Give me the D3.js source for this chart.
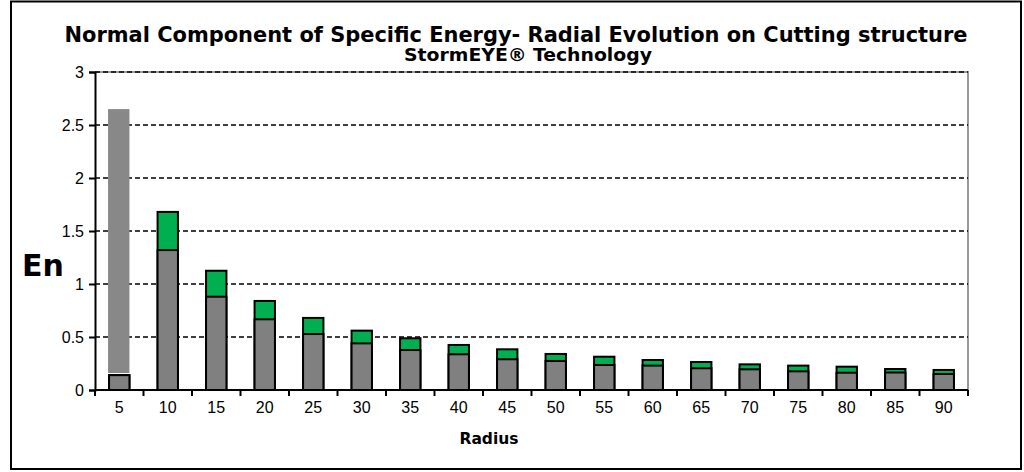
<!DOCTYPE html>
<html>
<head>
<meta charset="utf-8">
<script src="https://cdn.jsdelivr.net/npm/d3@7"></script>
<style>
  body { margin: 0; background: #fff; }
</style>
</head>
<body>
<script>
var radius = ["5","10","15","20","25","30","35","40","45","50","55","60","65","70","75","80","85","90"];
var greyVals = [0.14,1.32,0.88,0.667,0.528,0.44,0.377,0.337,0.29,0.274,0.236,0.23,0.205,0.195,0.176,0.163,0.165,0.151];
var totalVals = [0.14,1.68,1.125,0.84,0.68,0.56,0.488,0.425,0.384,0.34,0.314,0.283,0.264,0.242,0.23,0.22,0.198,0.189];
// the tall light bar drawn behind the first category
var overflowCat = ["5"];
var overflowRange = [[0.16, 2.65]];
var yTicks = [0, 0.5, 1, 1.5, 2, 2.5, 3];

var width = 1024, height = 472;
var margin = {left: 95, right: 56, top: 72, bottom: 82};

var svg = d3.select("body").append("svg")
    .attr("width", width)
    .attr("height", height);

// outer frame
svg.append("rect")
    .attr("x", 11).attr("y", 1.5)
    .attr("width", 1010).attr("height", 467.5)
    .attr("fill", "none").attr("stroke", "#000").attr("stroke-width", 2);

var x = d3.scaleBand()
    .domain(radius)
    .range([margin.left, width - margin.right])
    .paddingInner(0.58).paddingOuter(0.29);

var xb = d3.scaleBand().domain(radius).range([margin.left, width - margin.right]);

var y = d3.scaleLinear()
    .domain([0, 3])
    .range([height - margin.bottom, margin.top]);

// plot border (grey top / right)
svg.append("path")
    .attr("d", "M" + margin.left + "," + y(3) + "H" + (width - margin.right) + "V" + y(0))
    .attr("fill", "none").attr("stroke", "#999").attr("stroke-width", 2);

// grid
svg.append("g").selectAll("line")
    .data(yTicks.filter(function(d) { return d > 0; }))
    .enter().append("line")
    .attr("x1", margin.left).attr("x2", width - margin.right)
    .attr("y1", function(d) { return y(d); })
    .attr("y2", function(d) { return y(d); })
    .attr("stroke", "#000").attr("stroke-width", 1.6)
    .attr("stroke-dasharray", "5,3");

// overflow bar
svg.append("g").selectAll("rect")
    .data(overflowRange)
    .enter().append("rect")
    .attr("x", function(d, i) { return x(overflowCat[i]) - 1; })
    .attr("width", x.bandwidth() + 1)
    .attr("y", function(d) { return y(d[1]); })
    .attr("height", function(d) { return y(d[0]) - y(d[1]); })
    .attr("fill", "#888");

// green (total) bars
svg.append("g").selectAll("rect")
    .data(totalVals)
    .enter().append("rect")
    .attr("x", function(d, i) { return x(radius[i]); })
    .attr("width", x.bandwidth())
    .attr("y", function(d) { return y(d); })
    .attr("height", function(d) { return y(0) - y(d); })
    .attr("fill", "#00b050")
    .attr("stroke", "#000").attr("stroke-width", 2);

// grey bars
svg.append("g").selectAll("rect")
    .data(greyVals)
    .enter().append("rect")
    .attr("x", function(d, i) { return x(radius[i]); })
    .attr("width", x.bandwidth())
    .attr("y", function(d) { return y(d); })
    .attr("height", function(d) { return y(0) - y(d); })
    .attr("fill", "#808080")
    .attr("stroke", "#000").attr("stroke-width", 2);

// y axis
var yAxis = svg.append("g")
    .attr("transform", "translate(" + margin.left + ",0)")
    .call(d3.axisLeft(y).tickValues(yTicks).tickSize(6).tickPadding(5).tickFormat(d3.format("")));
yAxis.select(".domain").attr("stroke-width", 2);
yAxis.selectAll(".tick line").attr("stroke-width", 2);
yAxis.selectAll("text").attr("font-family", "Liberation Sans, Arial").attr("font-size", 16).attr("fill", "#000");

// x axis
var xAxis = svg.append("g")
    .attr("transform", "translate(0," + y(0) + ")")
    .call(d3.axisBottom(x).tickSize(0).tickPadding(12));
xAxis.select(".domain").attr("stroke-width", 2).attr("d", "M" + margin.left + ",0H" + (width - margin.right));
xAxis.selectAll("text").attr("font-family", "Liberation Sans, Arial").attr("font-size", 16).attr("fill", "#000");

// x category separators
svg.append("g").selectAll("line")
    .data(radius.concat(["end"]))
    .enter().append("line")
    .attr("x1", function(d, i) { return margin.left + i * xb.bandwidth(); })
    .attr("x2", function(d, i) { return margin.left + i * xb.bandwidth(); })
    .attr("y1", y(0)).attr("y2", y(0) + 6)
    .attr("stroke", "#000").attr("stroke-width", 2);

// titles
svg.append("text")
    .attr("x", 516).attr("y", 42)
    .attr("text-anchor", "middle")
    .attr("font-family", "DejaVu Sans Condensed, DejaVu Sans").attr("font-weight", "bold").attr("font-size", 21)
    .attr("textLength", 903).attr("lengthAdjust", "spacingAndGlyphs")
    .text("Normal Component of Specific Energy- Radial Evolution on Cutting structure");

svg.append("text")
    .attr("x", 528).attr("y", 61)
    .attr("text-anchor", "middle")
    .attr("font-family", "DejaVu Sans Condensed, DejaVu Sans").attr("font-weight", "bold").attr("font-size", 17)
    .attr("textLength", 248).attr("lengthAdjust", "spacingAndGlyphs")
    .text("StormEYE® Technology");

svg.append("text")
    .attr("x", 43).attr("y", 276)
    .attr("text-anchor", "middle")
    .attr("font-family", "DejaVu Sans").attr("font-weight", "bold").attr("font-size", 30)
    .text("En");

svg.append("text")
    .attr("x", 489).attr("y", 444)
    .attr("text-anchor", "middle")
    .attr("font-family", "DejaVu Sans Condensed, DejaVu Sans").attr("font-weight", "bold").attr("font-size", 16)
    .attr("textLength", 59).attr("lengthAdjust", "spacingAndGlyphs")
    .text("Radius");
</script>
</body>
</html>
